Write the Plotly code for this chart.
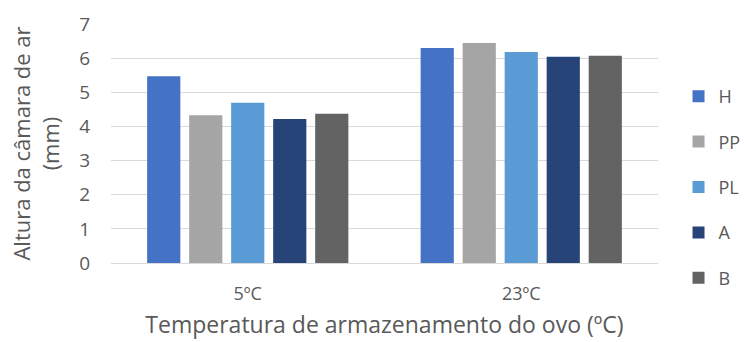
import plotly.graph_objects as go

# Storage temperature categories and air-cell height (mm) per treatment
categories = ["5ºC", "23ºC"]
series_names = ["H", "PP", "PL", "A", "B"]
h_vals = [5.47, 6.30]
pp_vals = [4.33, 6.44]
pl_vals = [4.69, 6.18]
a_vals = [4.22, 6.04]
b_vals = [4.37, 6.07]
y_ticks = [0, 1, 2, 3, 4, 5, 6, 7]

series_values = [h_vals, pp_vals, pl_vals, a_vals, b_vals]
colors = ["#4472C4", "#A5A5A5", "#5B9BD5", "#264478", "#636363"]

FONT = "Open Sans"
TEXT = "#595959"

fig = go.Figure()
for name, vals, col in zip(series_names, series_values, colors):
    fig.add_trace(go.Bar(
        x=categories, y=vals, name=name, legendgroup=name,
        marker=dict(color=col, line=dict(width=0)),
    ))

fig.update_layout(
    width=744, height=342,
    margin=dict(l=111, r=86, t=24, b=79, autoexpand=False),
    paper_bgcolor="white", plot_bgcolor="white",
    barmode="group", bargap=0.232, bargroupgap=0.21,
    font=dict(family=FONT, color=TEXT, size=18),
    showlegend=True,
    legend=dict(
        xref="container", yref="container",
        x=0.912, y=0.772, xanchor="left", yanchor="top",
        font=dict(size=18, color=TEXT), tracegroupgap=19,
        itemwidth=30, maxheight=340,
    ),
    xaxis=dict(
        showgrid=False, showline=True, linecolor="#D9D9D9", linewidth=1,
        ticks="", tickfont=dict(size=18, color=TEXT), ticklabelstandoff=14,
        title=dict(text="Temperatura de armazenamento do ovo (ºC)",
                   font=dict(size=23, color=TEXT), standoff=13),
    ),
    yaxis=dict(
        range=[0, 7], tickvals=y_ticks, showgrid=True, gridcolor="#D9D9D9",
        gridwidth=1, zeroline=False, ticks="", ticklabelstandoff=20,
        tickfont=dict(size=19, color=TEXT),
        title=dict(text="Altura da câmara de ar<br>(mm)",
                   font=dict(size=22, color=TEXT), standoff=13),
    ),
)

fig.write_html("out.html")
